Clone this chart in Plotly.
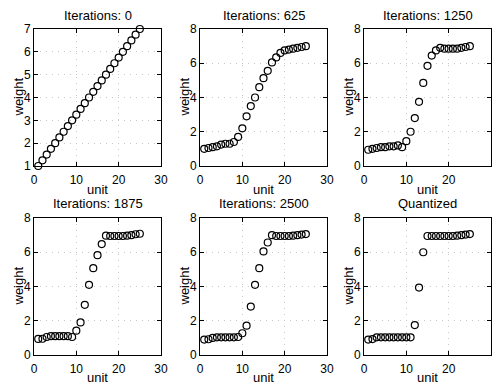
import plotly.graph_objects as go

units = list(range(1, 26))

titles = ["Iterations: 0", "Iterations: 625", "Iterations: 1250",
          "Iterations: 1875", "Iterations: 2500", "Quantized"]

w_0 = [1.0, 1.25, 1.5, 1.75, 2.0, 2.25, 2.5, 2.75, 3.0, 3.25, 3.5, 3.75, 4.0,
       4.25, 4.5, 4.75, 5.0, 5.25, 5.5, 5.75, 6.0, 6.25, 6.5, 6.75, 7.0]
w_625 = [1.0, 1.05, 1.1, 1.15, 1.25, 1.3, 1.3, 1.4, 1.7, 2.2, 2.9, 3.5, 4.0,
         4.6, 5.13, 5.56, 6.05, 6.34, 6.6, 6.75, 6.8, 6.85, 6.9, 6.95, 7.0]
w_1250 = [0.95, 1.0, 1.05, 1.1, 1.1, 1.15, 1.15, 1.2, 1.1, 1.45, 2.0, 2.8, 3.75,
          4.85, 5.85, 6.45, 6.75, 6.9, 6.85, 6.85, 6.85, 6.85, 6.9, 6.95, 7.0]
w_1875 = [0.94, 0.95, 1.05, 1.1, 1.1, 1.1, 1.1, 1.1, 1.05, 1.42, 1.9, 2.93, 4.1,
          5.07, 5.83, 6.48, 6.97, 6.95, 6.95, 6.95, 6.95, 6.97, 7.0, 7.05, 7.08]
w_2500 = [0.9, 0.92, 1.0, 1.03, 1.03, 1.03, 1.03, 1.03, 1.05, 1.27, 1.71, 2.83, 4.1,
          5.07, 6.05, 6.57, 7.0, 6.95, 6.95, 6.95, 6.95, 6.97, 7.0, 7.03, 7.06]
w_quant = [0.9, 0.93, 1.03, 1.03, 1.03, 1.03, 1.03, 1.03, 1.03, 1.03, 1.03, 1.75, 3.94,
           6.0, 6.95, 6.95, 6.95, 6.95, 6.95, 6.95, 6.95, 6.97, 7.0, 7.03, 7.06]
series = [w_0, w_625, w_1250, w_1875, w_2500, w_quant]

x_ticks = [0, 10, 20, 30]
y_ranges = [[1, 7], [0, 8], [0, 8], [0, 8], [0, 8], [0, 8]]
y_ticks = [[1, 2, 3, 4, 5, 6, 7], [0, 2, 4, 6, 8], [0, 2, 4, 6, 8],
           [0, 2, 4, 6, 8], [0, 2, 4, 6, 8], [0, 2, 4, 6, 8]]

W, H = 495, 385
col_px = [(34, 161), (200, 327), (364, 491)]
row_px = [(29, 166), (218, 355)]
unit_offset = [24, 22]

fig = go.Figure()
font = "Liberation Sans, Arial, sans-serif"


def ann(text, xpx, ypx, size=13, angle=0):
    fig.add_annotation(text=text, x=xpx / W, y=1 - ypx / H, xref="paper", yref="paper",
                       showarrow=False, textangle=angle, borderpad=0,
                       font=dict(size=size, color="black", family=font),
                       xanchor="center", yanchor="middle")


for i, (t, ys) in enumerate(zip(titles, series)):
    r, c = divmod(i, 3)
    n = i + 1
    xa = "x" if n == 1 else f"x{n}"
    ya = "y" if n == 1 else f"y{n}"
    fig.add_trace(go.Scatter(
        x=units, y=ys, mode="markers", xaxis=xa, yaxis=ya, showlegend=False,
        cliponaxis=False, hoverinfo="skip",
        marker=dict(symbol="circle-open", size=7, color="black",
                    line=dict(width=1.2, color="black"))))
    x0, x1 = col_px[c]
    y0, y1 = row_px[r]
    common = dict(showline=True, linecolor="black", linewidth=1, mirror="ticks",
                  ticks="inside", ticklen=4, tickcolor="black", automargin=False,
                  showgrid=True, gridcolor="#c8c8c8", griddash="1px,5px", gridwidth=1,
                  zeroline=False, tickfont=dict(size=12, color="black", family=font))
    fig.layout[f"xaxis{'' if n == 1 else n}"] = dict(
        domain=[x0 / W, x1 / W], anchor=ya, range=[0, 30], tickvals=x_ticks,
        ticklabelstandoff=3, **common)
    fig.layout[f"yaxis{'' if n == 1 else n}"] = dict(
        domain=[1 - y1 / H, 1 - y0 / H], anchor=xa, range=y_ranges[i],
        tickvals=y_ticks[i], **common)
    ann(t, (x0 + x1) / 2, y0 - 14)
    ann("unit", (x0 + x1) / 2, y1 + unit_offset[r])
    ann("weight", x0 - 16, (y0 + y1) / 2, angle=-90)

fig.update_layout(width=W, height=H, margin=dict(l=0, r=0, t=0, b=0),
                  paper_bgcolor="white", plot_bgcolor="white")
fig.write_html("out.html", config={"displayModeBar": False, "staticPlot": True},
               post_script="document.body.style.margin='0px';document.body.style.padding='0px';")
